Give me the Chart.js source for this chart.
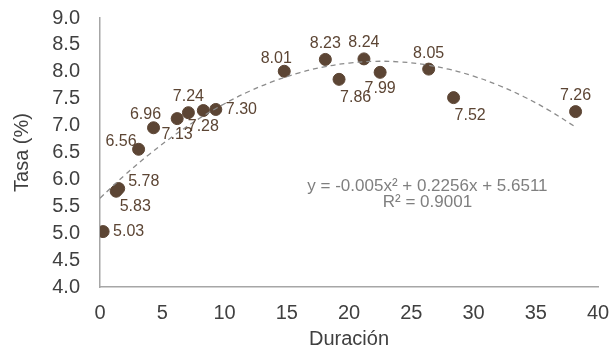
<!DOCTYPE html>
<html>
<head>
<meta charset="utf-8">
<script src="https://cdn.jsdelivr.net/npm/chart.js@4/dist/chart.umd.min.js"></script>
<style>
  html, body { margin: 0; padding: 0; background: #fff; }
  #wrap { width: 615px; height: 351px; }
</style>
</head>
<body>
<div id="wrap"><canvas id="chart"></canvas></div>
<script>
// duration (x) and rate (y)
const duracion = [0.25, 1.3, 1.5, 3.1, 4.3, 6.2, 7.1, 8.3, 9.3, 14.8, 18.1, 19.2, 21.2, 22.5, 26.4, 28.4, 38.2];
const tasa =     [5.03, 5.78, 5.83, 6.56, 6.96, 7.13, 7.24, 7.28, 7.30, 8.01, 8.23, 7.86, 8.24, 7.99, 8.05, 7.52, 7.26];
// where each value label sits around its point
const labelSide = ['e', 'ne', 'se', 'nw', 'nnw', 's', 'n', 's', 'e', 'nnw', 'n', 'se', 'n', 's', 'n', 'se', 'n'];
// polynomial trend shown on the chart: a*x^2 + b*x + c
const trendCoef = [-0.005, 0.2256, 5.6511];
const trendX = [0, 2, 4, 6, 8, 10, 12, 14, 16, 18, 20, 22, 24, 26, 28, 30, 32, 34, 36, 38.2];
const yTicks = [4.0, 4.5, 5.0, 5.5, 6.0, 6.5, 7.0, 7.5, 8.0, 8.5, 9.0];

const FONT = '"Liberation Sans", Arial, sans-serif';
const BROWN = '#5c4534';

const points = duracion.map((x, i) => ({ x, y: tasa[i] }));
const trend = trendX.map(x => ({ x, y: trendCoef[0] * x * x + trendCoef[1] * x + trendCoef[2] }));

const offsets = {
  e: [10, 0, 'left'], ne: [12, -10, 'left'], se: [1, 18, 'left'],
  nw: [-2, -8, 'right'], nnw: [-8, -13, 'center'],
  n: [0, -16, 'center'], s: [0, 16, 'center'], w: [-10, 0, 'right']
};

const labelPlugin = {
  id: 'valueLabels',
  afterDatasetsDraw(chart) {
    const ctx = chart.ctx;
    const meta = chart.getDatasetMeta(1);
    ctx.save();
    ctx.font = '16px ' + FONT;
    ctx.fillStyle = BROWN;
    ctx.textBaseline = 'middle';
    meta.data.forEach((el, i) => {
      const o = offsets[labelSide[i]];
      ctx.textAlign = o[2];
      ctx.fillText(tasa[i].toFixed(2), el.x + o[0], el.y + o[1]);
    });
    // trend equation
    const xs = chart.scales.x, ys = chart.scales.y;
    const cx = xs.getPixelForValue(26.3);
    ctx.font = '17px ' + FONT;
    ctx.fillStyle = '#7f7f7f';
    ctx.textAlign = 'center';
    ctx.fillText('y = -0.005x² + 0.2256x + 5.6511', cx, ys.getPixelForValue(5.88));
    ctx.fillText('R² = 0.9001', cx, ys.getPixelForValue(5.58));
    ctx.restore();
  }
};

new Chart(document.getElementById('chart'), {
  type: 'scatter',
  data: {
    datasets: [
      {
        type: 'line',
        data: trend,
        borderColor: '#8c8c8c',
        borderWidth: 1.3,
        borderDash: [5, 4],
        pointRadius: 0,
        tension: 0.4,
        fill: false
      },
      {
        data: points,
        backgroundColor: BROWN,
        borderColor: BROWN,
        pointRadius: 6,
        pointHoverRadius: 6
      }
    ]
  },
  options: {
    responsive: true,
    maintainAspectRatio: false,
    animation: false,
    layout: { padding: { top: 18, right: 17, bottom: 0, left: 8 } },
    plugins: { legend: { display: false }, tooltip: { enabled: false } },
    scales: {
      x: {
        type: 'linear',
        min: 0, max: 40,
        afterFit: axis => { axis.height = 64; axis.paddingLeft = 0; axis.paddingRight = 0; },
        ticks: { stepSize: 5, color: '#404040', font: { family: FONT, size: 20 }, padding: 14, maxRotation: 0 },
        grid: { display: false, drawTicks: false },
        border: { color: '#a6a6a6', width: 1.5 },
        title: { display: true, text: 'Duración', color: '#404040', font: { family: FONT, size: 20 }, padding: { top: 4, bottom: 0 } }
      },
      y: {
        min: 4, max: 9,
        afterFit: axis => { axis.width = 92; axis.paddingTop = 0; axis.paddingBottom = 0; },
        afterBuildTicks: axis => { axis.ticks = yTicks.map(v => ({ value: v })); },
        ticks: { autoSkip: false, color: '#404040', font: { family: FONT, size: 20 }, padding: 20, callback: v => v.toFixed(1) },
        grid: { display: false, drawTicks: false },
        border: { color: '#a6a6a6', width: 1.5 },
        title: { display: true, text: 'Tasa (%)', color: '#404040', font: { family: FONT, size: 20 }, padding: { top: 2, bottom: 14 } }
      }
    }
  },
  plugins: [labelPlugin]
});
</script>
</body>
</html>
